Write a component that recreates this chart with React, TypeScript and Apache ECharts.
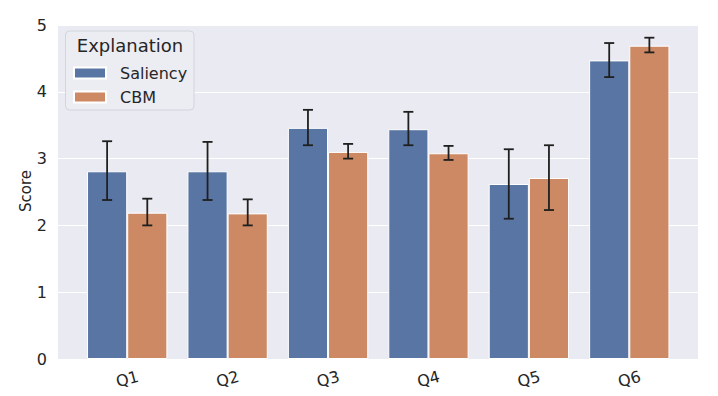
import React, { useEffect, useRef } from 'react';
import * as echarts from 'echarts';

const categories = ['Q1', 'Q2', 'Q3', 'Q4', 'Q5', 'Q6'];
const saliency = [2.81, 2.81, 3.46, 3.44, 2.62, 4.47];
const saliencyLow = [2.38, 2.38, 3.2, 3.2, 2.1, 4.22];
const saliencyHigh = [3.26, 3.25, 3.73, 3.7, 3.14, 4.73];
const cbm = [2.19, 2.18, 3.1, 3.08, 2.71, 4.69];
const cbmLow = [2.0, 2.0, 3.0, 2.98, 2.23, 4.59];
const cbmHigh = [2.4, 2.39, 3.22, 3.19, 3.2, 4.81];
const yTicks = [0, 1, 2, 3, 4, 5];
const yTitle = 'Score';
const legendTitle = 'Explanation';

const FONT = 'DejaVu Sans';
const TEXT = '#262626';

function makeErr(low: number[], high: number[], sign: number) {
  return {
    type: 'custom',
    xAxisIndex: 1,
    yAxisIndex: 1,
    z: 5,
    silent: true,
    data: categories.map((_, i) => [i, low[i], high[i]]),
    encode: { x: 0, y: [1, 2] },
    renderItem: (params: any, api: any) => {
      const i = api.value(0);
      const band = api.size([1, 0])[0];
      const p1 = api.coord([i, api.value(1)]);
      const p2 = api.coord([i, api.value(2)]);
      const x = p1[0] + sign * band * 0.2;
      const cap = 5;
      const style = { stroke: '#1f1f1f', lineWidth: 1.8 };
      return {
        type: 'group',
        children: [
          { type: 'line', shape: { x1: x, y1: p1[1], x2: x, y2: p2[1] }, style },
          { type: 'line', shape: { x1: x - cap, y1: p1[1], x2: x + cap, y2: p1[1] }, style },
          { type: 'line', shape: { x1: x - cap, y1: p2[1], x2: x + cap, y2: p2[1] }, style },
        ],
      };
    },
  };
}

export default function App() {
  const ref = useRef<HTMLDivElement>(null);
  useEffect(() => {
    document.body.style.margin = '0';
    if (!ref.current) return;
    const chart = echarts.init(ref.current, undefined, { renderer: 'svg' });
    const yMax = yTicks[yTicks.length - 1];
    chart.setOption({
      animation: false,
      backgroundColor: '#ffffff',
      textStyle: { fontFamily: FONT },
      grid: [
        { left: 58, right: 20, top: 25, bottom: 37, show: true, backgroundColor: '#eaeaf2', borderWidth: 0 },
        { left: 77, right: 38.5, top: 25, bottom: 37 },
      ],
      xAxis: [
        { type: 'value', gridIndex: 0, show: false, min: 0, max: 1 },
        {
          type: 'category',
          gridIndex: 1,
          data: categories,
          axisLine: { show: false },
          axisTick: { show: false },
          axisLabel: {
            rotate: 15,
            align: 'center',
            verticalAlign: 'middle',
            margin: 20,
            fontSize: 16,
            color: TEXT,
            fontFamily: FONT,
          },
        },
      ],
      yAxis: [
        {
          type: 'value',
          gridIndex: 0,
          min: 0,
          max: yMax,
          interval: 1,
          axisLine: { show: false },
          axisTick: { show: false },
          axisLabel: { fontSize: 16, color: TEXT, margin: 11, fontFamily: FONT },
          splitLine: { show: true, lineStyle: { color: '#ffffff', width: 1.2 } },
        },
        {
          type: 'value',
          gridIndex: 1,
          min: 0,
          max: yMax,
          interval: 1,
          show: false,
          splitLine: { show: false },
        },
      ],
      legend: {
        data: ['Saliency', 'CBM'],
        orient: 'vertical',
        left: 68,
        top: 60,
        padding: [5, 5, 5, 5],
        itemWidth: 32,
        itemHeight: 11,
        itemGap: 8,
        icon: 'rect',
        z: 20,
        textStyle: { fontSize: 16, color: TEXT, fontFamily: FONT, padding: [0, 0, 0, 9] },
      },
      graphic: [
        {
          type: 'rect',
          z: 10,
          shape: { x: 65.5, y: 31, width: 128.5, height: 79, r: 4 },
          style: { fill: '#ececf3', stroke: '#d4d4dc', lineWidth: 1 },
        },
        {
          type: 'text',
          z: 20,
          x: 130,
          y: 45.5,
          style: {
            text: legendTitle,
            fontSize: 18,
            fontFamily: FONT,
            fill: TEXT,
            align: 'center',
            verticalAlign: 'middle',
          },
        },
        {
          type: 'text',
          z: 20,
          x: 26,
          y: 191,
          rotation: Math.PI / 2,
          style: {
            text: yTitle,
            fontSize: 15,
            fontFamily: FONT,
            fill: TEXT,
            align: 'center',
            verticalAlign: 'middle',
          },
        },
      ],
      series: [
        {
          name: 'Saliency',
          type: 'bar',
          xAxisIndex: 1,
          yAxisIndex: 1,
          data: saliency,
          barGap: '0%',
          barCategoryGap: '20%',
          itemStyle: { color: '#5975a4', borderColor: '#ffffff', borderWidth: 1 },
        },
        {
          name: 'CBM',
          type: 'bar',
          xAxisIndex: 1,
          yAxisIndex: 1,
          data: cbm,
          barGap: '0%',
          barCategoryGap: '20%',
          itemStyle: { color: '#cc8963', borderColor: '#ffffff', borderWidth: 1 },
        },
        makeErr(saliencyLow, saliencyHigh, -1),
        makeErr(cbmLow, cbmHigh, 1),
      ],
    });
    return () => chart.dispose();
  }, []);
  return <div ref={ref} style={{ width: 718, height: 396 }} />;
}
